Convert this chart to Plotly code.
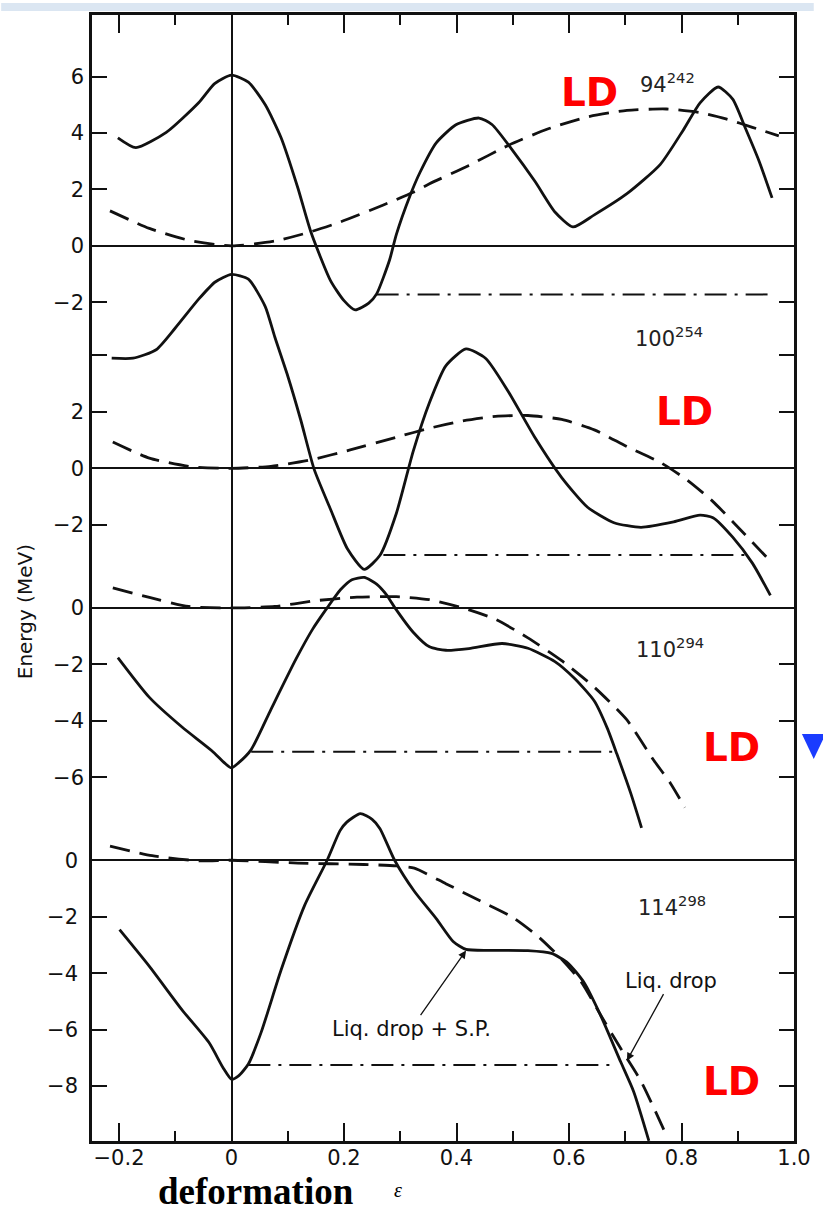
import plotly.graph_objects as go

# ---------------- data ----------------
# Panel 1 : 94^242
p1_solid_x = [-0.202, -0.17, -0.116, -0.058, -0.03, 0.0, 0.03, 0.06, 0.088, 0.118, 0.141, 0.176, 0.2, 0.22,
              0.244, 0.258, 0.281, 0.293, 0.317, 0.335, 0.364, 0.399, 0.44, 0.463, 0.498, 0.54, 0.575, 0.607,
              0.645, 0.703, 0.762, 0.803, 0.833, 0.865, 0.891, 0.914, 0.938, 0.961]
p1_solid_y = [3.83, 3.48, 4.02, 5.08, 5.75, 6.05, 5.8, 5.0, 3.84, 2.05, 0.5, -1.23, -1.94, -2.27,
              -2.03, -1.7, -0.5, 0.4, 1.76, 2.6, 3.65, 4.29, 4.53, 4.3, 3.43, 2.27, 1.2, 0.67,
              1.1, 1.85, 2.88, 4.1, 5.07, 5.63, 5.2, 4.15, 3.0, 1.7]
p1_ld_x = [-0.216, -0.146, -0.076, 0.0, 0.077, 0.141, 0.194, 0.27, 0.323, 0.352, 0.422, 0.492, 0.562,
           0.633, 0.703, 0.773, 0.833, 0.879, 0.926, 0.973]
p1_ld_y = [1.24, 0.62, 0.2, 0.0, 0.17, 0.5, 0.85, 1.45, 1.9, 2.2, 2.85, 3.56, 4.14,
           4.57, 4.8, 4.85, 4.72, 4.5, 4.2, 3.9]
p1_gs_x = [0.258, 0.953]
p1_gs_y = [-1.72, -1.72]

# Panel 2 : 100^254
p2_solid_x = [-0.213, -0.175, -0.134, -0.1, -0.058, -0.029, 0.0, 0.03, 0.06, 0.077, 0.1, 0.123, 0.147, 0.176,
              0.206, 0.236, 0.264, 0.293, 0.323, 0.352, 0.381, 0.417, 0.452, 0.492, 0.54, 0.587, 0.633, 0.68,
              0.728, 0.786, 0.833, 0.856, 0.891, 0.926, 0.958]
p2_solid_y = [3.9, 3.9, 4.2, 4.97, 6.0, 6.6, 6.87, 6.7, 5.73, 4.65, 3.27, 1.72, -0.04, -1.45,
              -2.85, -3.58, -3.08, -1.6, 0.6, 2.33, 3.63, 4.23, 3.89, 2.72, 1.07, -0.33, -1.38, -1.93,
              -2.09, -1.9, -1.66, -1.75, -2.44, -3.36, -4.5]
p2_ld_x = [-0.211, -0.146, -0.07, 0.0, 0.07, 0.141, 0.211, 0.293, 0.352, 0.411, 0.469, 0.527, 0.587,
           0.645, 0.703, 0.763, 0.809, 0.856, 0.903, 0.956]
p2_ld_y = [0.93, 0.36, 0.05, 0.0, 0.07, 0.3, 0.65, 1.1, 1.42, 1.68, 1.84, 1.87, 1.73,
           1.36, 0.77, 0.2, -0.4, -1.18, -2.14, -3.25]
p2_gs_x = [0.27, 0.914]
p2_gs_y = [-3.07, -3.07]

# Panel 3 : 110^294
p3_solid_x = [-0.202, -0.146, -0.088, -0.035, -0.012, 0.0, 0.012, 0.035, 0.07, 0.115, 0.144, 0.17, 0.194,
              0.214, 0.236, 0.258, 0.276, 0.29, 0.323, 0.352, 0.381, 0.422, 0.481, 0.527, 0.575, 0.61,
              0.645, 0.668, 0.685, 0.71, 0.729]
p3_solid_y = [-1.76, -3.17, -4.22, -5.06, -5.5, -5.67, -5.5, -5.02, -3.6, -1.8, -0.76, 0.0, 0.65,
              1.0, 1.08, 0.84, 0.45, 0.02, -0.86, -1.38, -1.5, -1.44, -1.26, -1.43, -1.9, -2.5,
              -3.3, -4.26, -5.17, -6.58, -7.79]
p3_ld_x = [-0.211, -0.146, -0.076, 0.0, 0.077, 0.147, 0.223, 0.293, 0.352, 0.411, 0.469, 0.527, 0.587,
           0.645, 0.703, 0.75, 0.78, 0.806]
p3_ld_y = [0.71, 0.37, 0.05, 0.0, 0.05, 0.25, 0.38, 0.4, 0.29, 0.0, -0.4, -1.06, -1.87,
           -2.81, -3.97, -5.38, -6.2, -7.07]
p3_gs_x = [0.035, 0.683]
p3_gs_y = [-5.1, -5.1]

# Panel 4 : 114^298
p4_solid_x = [-0.199, -0.146, -0.088, -0.04, -0.015, 0.0, 0.012, 0.03, 0.053, 0.088, 0.13, 0.17, 0.193,
              0.205, 0.229, 0.25, 0.264, 0.29, 0.325, 0.364, 0.394, 0.417, 0.469, 0.527, 0.569, 0.598,
              0.627, 0.657, 0.692, 0.715, 0.742]
p4_solid_y = [-2.46, -3.76, -5.3, -6.46, -7.35, -7.76, -7.65, -7.22, -6.08, -3.9, -1.6, 0.0, 1.05,
              1.35, 1.65, 1.45, 1.12, 0.0, -1.1, -2.07, -2.88, -3.16, -3.19, -3.2, -3.3, -3.64,
              -4.34, -5.53, -7.15, -8.2, -9.94]
p4_ld_x = [-0.216, -0.141, -0.058, 0.0, 0.118, 0.235, 0.293, 0.325, 0.381, 0.44, 0.499, 0.545, 0.587,
           0.622, 0.657, 0.692, 0.728, 0.771]
p4_ld_y = [0.5, 0.16, -0.02, 0.0, -0.1, -0.15, -0.2, -0.28, -0.83, -1.42, -2.01, -2.7, -3.51,
           -4.32, -5.51, -6.67, -7.83, -9.65]
p4_gs_x = [0.03, 0.68]
p4_gs_y = [-7.25, -7.25]

panel_labels = ["94<sup>242</sup>", "100<sup>254</sup>", "110<sup>294</sup>", "114<sup>298</sup>"]
x_tick_vals = [-0.2, 0, 0.2, 0.4, 0.6, 0.8, 1.0]
x_tick_text = ["\u22120.2", "0", "0.2", "0.4", "0.6", "0.8", "1.0"]
x_minor_vals = [-0.1, 0.1, 0.3, 0.5, 0.7, 0.9]
p1_ticks = [6, 4, 2, 0, -2]
p2_ticks = [4, 2, 0, -2]
p2_ticktext = [" ", "2", "0", "\u22122"]
p3_ticks = [0, -2, -4, -6]
p4_ticks = [0, -2, -4, -6, -8]

# ---------------- layout geometry ----------------
W, H = 823, 1213
L, R, T, B = 92, 803, 12, 1141          # plot-area pixel box
PX_PER_MEV = 28.3
zero_px = {"y4": 243.5, "y3": 466.5, "y2": 606.5, "y": 859.5}   # pixel row of each panel's zero


def yrange(z):
    return [-(B - z) / PX_PER_MEV, (z - T) / PX_PER_MEV]


def px(xp):
    return (xp - L) / (R - L)


def py(yp):
    return (B - yp) / (B - T)


def mtext(v):
    return ("\u2212" + str(abs(v))) if v < 0 else str(v)


fig = go.Figure()

SOLID = dict(color="#111111", width=2.8, shape="spline", smoothing=0.6)
DASH = dict(color="#111111", width=2.8, dash="20px,10px", shape="spline", smoothing=0.6)
DDOT = dict(color="#111111", width=2.0, dash="22px,8px,3px,8px")

panels = [
    ("y4", p1_solid_x, p1_solid_y, p1_ld_x, p1_ld_y, p1_gs_x, p1_gs_y),
    ("y3", p2_solid_x, p2_solid_y, p2_ld_x, p2_ld_y, p2_gs_x, p2_gs_y),
    ("y2", p3_solid_x, p3_solid_y, p3_ld_x, p3_ld_y, p3_gs_x, p3_gs_y),
    ("y", p4_solid_x, p4_solid_y, p4_ld_x, p4_ld_y, p4_gs_x, p4_gs_y),
]
for ya, sx, sy, lx, ly, gx, gy in panels:
    fig.add_trace(go.Scatter(x=lx, y=ly, mode="lines", line=DASH, yaxis=ya, showlegend=False, hoverinfo="skip"))
    fig.add_trace(go.Scatter(x=gx, y=gy, mode="lines", line=DDOT, yaxis=ya, showlegend=False, hoverinfo="skip"))
    fig.add_trace(go.Scatter(x=sx, y=sy, mode="lines", line=SOLID, yaxis=ya, showlegend=False, hoverinfo="skip"))

SANS = "DejaVu Sans, Verdana, sans-serif"
TICKFONT = dict(family=SANS, size=21, color="#111111")
common_y = dict(ticks="inside", ticklen=15, tickwidth=2, tickcolor="#111111", showgrid=False,
                zeroline=True, zerolinecolor="#111111", zerolinewidth=1.6, tickfont=TICKFONT,
                ticklabelstandoff=7, fixedrange=True)

fig.update_layout(
    width=W, height=H,
    margin=dict(l=L, r=W - R, t=T, b=H - B),
    paper_bgcolor="white", plot_bgcolor="white",
    showlegend=False,
    xaxis=dict(range=[-0.248, 1.0], showline=True, linewidth=2.5, linecolor="#111111", mirror="ticks",
               ticks="inside", ticklen=18, tickwidth=2, tickcolor="#111111",
               tickvals=x_tick_vals, ticktext=x_tick_text, tickfont=TICKFONT,
               minor=dict(tickvals=x_minor_vals, ticks="inside", ticklen=10, tickwidth=2, tickcolor="#111111"),
               showgrid=False, zeroline=True, zerolinecolor="#111111", zerolinewidth=1.6, ticklabelstandoff=-4),
    yaxis=dict(range=yrange(zero_px["y"]), showline=True, linewidth=2.5, linecolor="#111111", mirror="ticks",
               tickvals=p4_ticks, ticktext=[mtext(v) for v in p4_ticks], **common_y),
    yaxis2=dict(range=yrange(zero_px["y2"]), overlaying="y", anchor="x", side="left", showline=False,
                mirror="ticks", tickvals=p3_ticks, ticktext=[mtext(v) for v in p3_ticks], **common_y),
    yaxis3=dict(range=yrange(zero_px["y3"]), overlaying="y", anchor="x", side="left", showline=False,
                mirror="ticks", tickvals=p2_ticks, ticktext=p2_ticktext, **common_y),
    yaxis4=dict(range=yrange(zero_px["y4"]), overlaying="y", anchor="x", side="left", showline=False,
                mirror="ticks", tickvals=p1_ticks, ticktext=[mtext(v) for v in p1_ticks], **common_y),
)

C = dict(xanchor="center", yanchor="middle")
ann = []
# panel labels
for lab, (xp, yp) in zip(panel_labels, [(675, 80), (676, 335), (677, 647), (679, 905)]):
    ann.append(dict(text=lab, x=px(xp), y=py(yp), xref="paper", yref="paper", showarrow=False,
                    font=dict(family=SANS, size=21, color="#222222"), **C))
# red LD labels
for (xp, yp) in [(596, 90), (692, 410), (740, 746), (740, 1081)]:
    ann.append(dict(text="<b>LD</b>", x=px(xp), y=py(yp), xref="paper", yref="paper", showarrow=False,
                    font=dict(family="DejaVu Sans, Verdana, sans-serif", size=39, color="#ff0000"), **C))
# arrows
ann.append(dict(text="Liq. drop + S.P.", x=0.417, y=-3.2, xref="x", yref="y", ax=-55, ay=78,
                showarrow=True, arrowhead=2, arrowsize=1.2, arrowwidth=1.3, arrowcolor="#111111",
                font=dict(family=SANS, size=21, color="#111111")))
ann.append(dict(text="Liq. drop", x=0.703, y=-7.1, xref="x", yref="y", ax=44, ay=-80,
                showarrow=True, arrowhead=2, arrowsize=1.2, arrowwidth=1.3, arrowcolor="#111111",
                font=dict(family=SANS, size=21, color="#111111")))
# axis titles
ann.append(dict(text="Energy (MeV)", x=px(25), y=py(610), xref="paper", yref="paper", showarrow=False,
                textangle=-90, font=dict(family=SANS, size=20, color="#111111"), **C))
ann.append(dict(text="<b>deformation</b>", x=px(258), y=py(1192), xref="paper", yref="paper", showarrow=False,
                font=dict(family="Liberation Serif, Times New Roman, serif", size=37, color="#000000"), **C))
ann.append(dict(text="<i>\u03b5</i>", x=px(402), y=py(1190), xref="paper", yref="paper", showarrow=False,
                font=dict(family="Liberation Serif, Times New Roman, serif", size=20, color="#000000"), **C))
fig.update_layout(annotations=ann)

# slide artefacts: light blue strip at top and a clipped blue marker at the right edge
fig.add_shape(type="rect", xref="paper", yref="paper", x0=px(0), x1=px(W), y0=py(8), y1=py(0),
              fillcolor="#dbe6f2", line=dict(width=0), layer="below")
fig.add_shape(type="path", xref="paper", yref="paper",
              path=f"M {px(811)} {py(733)} L {px(835)} {py(733)} L {px(823)} {py(758)} Z",
              fillcolor="#1a3cff", line=dict(width=0))

fig.write_html("out.html")
